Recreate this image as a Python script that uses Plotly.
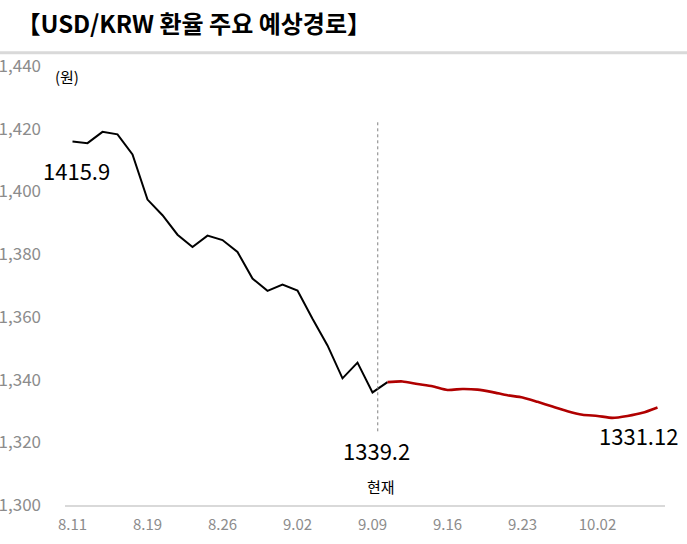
import plotly.graph_objects as go

# trading days (x categories)
dates = [
    "8.11", "8.12", "8.13", "8.14", "8.18", "8.19", "8.20", "8.21", "8.22", "8.25",
    "8.26", "8.27", "8.28", "8.29", "9.01", "9.02", "9.03", "9.04", "9.05", "9.08",
    "9.09", "9.10", "9.11", "9.12", "9.15", "9.16", "9.17", "9.18", "9.19", "9.22",
    "9.23", "9.24", "9.25", "9.26", "9.29", "10.02", "10.10", "10.13", "10.14", "10.15",
]

# realised USD/KRW (black)
actual = [
    1415.9, 1415.4, 1419.0, 1418.2, 1411.8, 1397.4, 1392.4, 1386.2, 1382.3, 1385.9,
    1384.5, 1380.7, 1372.2, 1368.3, 1370.3, 1368.4, 1359.4, 1350.9, 1340.4, 1345.4,
    1335.9, 1339.2,
]

# expected path (red), starts at the current value
forecast = [
    1339.2, 1339.4, 1338.6, 1337.9, 1336.7, 1337.0, 1336.8, 1336.0, 1335.0, 1334.3,
    1332.9, 1331.4, 1329.9, 1328.8, 1328.4, 1327.8, 1328.4, 1329.4, 1331.12,
]

tick_labels = ["8.11", "8.19", "8.26", "9.02", "9.09", "9.16", "9.23", "10.02"]
y_ticks = [1300, 1320, 1340, 1360, 1380, 1400, 1420, 1440]

n_act = len(actual)
x_act = dates[:n_act]
x_fc = dates[n_act - 1:n_act - 1 + len(forecast)]
i_now = n_act - 1                      # category index of "현재"
i_last = n_act - 2 + len(forecast)     # last forecast point

FONT = "Noto Sans CJK KR"
GRAY = "#8C8C8C"

fig = go.Figure()
fig.add_trace(go.Scatter(x=x_act, y=actual, mode="lines",
                         line=dict(color="#000000", width=2), hoverinfo="skip"))
fig.add_trace(go.Scatter(x=x_fc, y=forecast, mode="lines",
                         line=dict(color="#B00000", width=2.6, shape="spline", smoothing=0.6),
                         hoverinfo="skip"))

# "현재" marker line
fig.add_shape(type="line", xref="x", yref="y", x0=i_now - 0.65, x1=i_now - 0.65,
              y0=1323.5, y1=1422.3, line=dict(color="#808080", width=1, dash="dot"))
# rule under the title
fig.add_shape(type="line", xref="paper", yref="paper", x0=-0.12, x1=1.05, y0=1.03, y1=1.03,
              line=dict(color="#D9D9D9", width=3))

fig.add_annotation(x=0, y=actual[0], text=f"{actual[0]}", showarrow=False,
                   xshift=4, yshift=-28, font=dict(size=22, color="#000000", family=FONT))
fig.add_annotation(x=i_now, y=actual[-1], text=f"{actual[-1]}", showarrow=False,
                   xshift=-11, yshift=-68, font=dict(size=22, color="#000000", family=FONT))
fig.add_annotation(x=i_last, y=forecast[-1], text=f"{forecast[-1]}", showarrow=False,
                   xshift=-19, yshift=-28, font=dict(size=22, color="#000000", family=FONT))
fig.add_annotation(x=i_now, y=1306, text="현재", showarrow=False, xshift=-7,
                   font=dict(size=15, color="#000000", family=FONT))
fig.add_annotation(x=0.003, y=0.976, xref="paper", yref="paper", text="(원)", showarrow=False,
                   xanchor="center", yanchor="middle",
                   font=dict(size=15, color="#000000", family=FONT))

fig.update_layout(
    width=687, height=544,
    margin=dict(l=65, r=22, t=66, b=39),
    paper_bgcolor="white", plot_bgcolor="white",
    showlegend=False,
    font=dict(family=FONT),
    title=dict(text="<b>【USD/KRW 환율 주요 예상경로】</b>", xref="container", yref="container",
               x=0.024, y=0.954, xanchor="left", yanchor="middle",
               font=dict(size=24, color="#000000", family=FONT)),
    xaxis=dict(type="category", categoryorder="array", categoryarray=dates,
               range=[-0.5, len(dates) - 0.5],
               tickmode="array", tickvals=tick_labels, ticktext=tick_labels,
               showgrid=False, zeroline=False, showline=True, linecolor="#D9D9D9", linewidth=2,
               ticks="", ticklabelstandoff=5, automargin=False,
               tickfont=dict(size=15, color=GRAY, family=FONT)),
    yaxis=dict(range=[1300, 1440], tickmode="array", tickvals=y_ticks,
               ticktext=[f"{v:,}" for v in y_ticks],
               showgrid=False, zeroline=False, showline=False, ticks="",
               ticklabelstandoff=23, automargin=False,
               tickfont=dict(size=17, color=GRAY, family=FONT)),
)

fig.write_html("out.html", config={"displayModeBar": False},
               post_script="document.body.style.margin='0';")
